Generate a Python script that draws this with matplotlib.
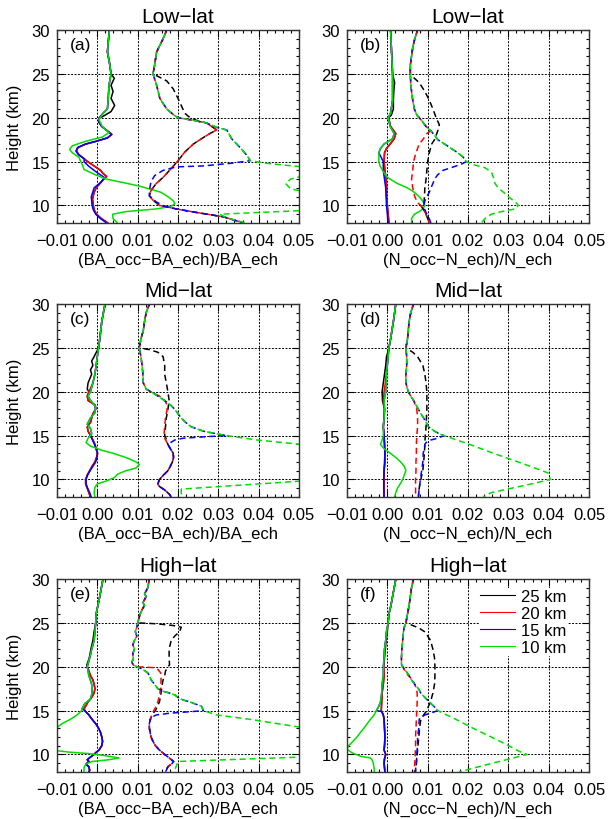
import matplotlib
matplotlib.use("Agg")
import matplotlib.pyplot as plt
from matplotlib.ticker import MultipleLocator, FuncFormatter
from matplotlib.lines import Line2D

plt.rcParams['font.family'] = ['Liberation Sans', 'DejaVu Sans']

# ---- data: heights (km) and relative differences ----
# solid = bias, dashed = spread; 10 km curve is full, others spliced in below
# (a) Low-lat, bending angle
a_sol_10_h = [30, 28.6, 27.5, 26.3, 25, 23.7, 22.2, 21, 20.5, 19.8, 19, 18.3, 17.8, 17.3, 16.8, 16.4, 16.0, 15.5, 15, 14.5, 14.1, 13.5, 13.0, 12.5, 12.2, 11.5, 11, 10.5, 10.2, 9.9, 9.6, 9.3, 9.0, 8.5, 8.0]
a_sol_10 = [0.0030, 0.0027, 0.0025, 0.0030, 0.0034, 0.0029, 0.0027, 0.0025, 0.0014, 0.0004, 0.0012, 0.0029, 0.0012, -0.0030, -0.0062, -0.0069, -0.0062, -0.0046, -0.0041, -0.0036, -0.0033, -0.0005, 0.0023, 0.0075, 0.0105, 0.0158, 0.0175, 0.0189, 0.0192, 0.0183, 0.0146, 0.0071, 0.0038, 0.0039, 0.0050]
a_sol_15_h = [20.0, 19.5, 19.0, 18.5, 18.1, 17.7, 17.3, 17.0, 16.6, 16.2, 15.8, 15.3, 15.0, 14.5, 14.0, 13.7, 13.2, 12.7, 12.0, 11.0, 10.0, 9.5, 9.0, 8.5, 8.0]
a_sol_15 = [0.0005, 0.0004, 0.0011, 0.0025, 0.0035, 0.0025, -0.0004, -0.0029, -0.0049, -0.0053, -0.0047, -0.0032, -0.0033, -0.0022, -0.0008, 0.0001, 0.0017, 0.0010, -0.0008, -0.0015, -0.0013, -0.0010, -0.0004, 0.0008, 0.0023]
a_sol_20_h = [20.0, 19.5, 19.0, 18.5, 18.1, 17.7, 17.3, 17.0, 16.6, 16.2, 15.8, 15.0, 14.5, 14.0, 13.7, 13.3, 12.8, 12.0, 11.5, 10.7, 10.0, 9.5, 9.0, 8.5, 8.0]
a_sol_20 = [0.0005, 0.0004, 0.0011, 0.0025, 0.0036, 0.0025, -0.0004, -0.0029, -0.0048, -0.0052, -0.0046, -0.0024, -0.0008, 0.0008, 0.0013, 0.0023, 0.0012, -0.0003, -0.0008, -0.0012, -0.0010, -0.0008, -0.0002, 0.0010, 0.0026]
a_sol_25_h = [24.5, 23.7, 23.0, 22.2, 21.4, 20.7, 20.1]
a_sol_25 = [0.0042, 0.0034, 0.0039, 0.0034, 0.0043, 0.0034, 0.0012]
a_das_10_h = [30, 29, 27.5, 26, 25, 23.7, 22.2, 21, 20.3, 20.0, 19.7, 19.4, 18.9, 18.6, 17.6, 16.6, 15.7, 15.1, 14.8, 14.6, 14.4, 14.0, 13.0, 12.5, 11.9, 11.5, 10.0, 9.4, 9.2, 9.0, 8.6, 8.0]
a_das_10 = [0.0172, 0.0163, 0.0147, 0.0142, 0.0138, 0.0147, 0.0155, 0.0172, 0.0190, 0.0200, 0.0238, 0.0271, 0.0296, 0.0321, 0.0333, 0.0354, 0.0371, 0.0379, 0.0420, 0.0463, 0.0510, 0.0560, 0.0479, 0.0467, 0.0479, 0.0520, 0.0600, 0.0500, 0.0400, 0.0304, 0.0320, 0.0368]
a_das_15_h = [14.8, 14.5, 14.4, 14.0, 13.4, 12.7, 11.7, 11.1, 10.4, 9.9, 9.6, 9.2, 8.7, 8.0]
a_das_15 = [0.0330, 0.0260, 0.0196, 0.0163, 0.0142, 0.0133, 0.0129, 0.0129, 0.0146, 0.0167, 0.0196, 0.0246, 0.0313, 0.0363]
a_das_20_h = [19.7, 19.4, 18.6, 18.2, 17.6, 17.0, 16.1, 15.1, 14.2, 13.2, 12.5, 11.7, 11.1, 10.6, 10.0]
a_das_20 = [0.0238, 0.0271, 0.0296, 0.0279, 0.0258, 0.0238, 0.0217, 0.0200, 0.0183, 0.0163, 0.0146, 0.0133, 0.0129, 0.0138, 0.0154]
a_das_25_h = [24.2, 23.3, 22.2, 21.4, 20.5, 20.0, 19.7, 19.4]
a_das_25 = [0.0172, 0.0188, 0.0200, 0.0208, 0.0217, 0.0230, 0.0246, 0.0271]

# (b) Low-lat, refractivity
b_sol_10_h = [30, 28, 25, 22, 20.5, 20.0, 19.0, 18.2, 17.6, 17.0, 16.5, 16.0, 15.0, 14.5, 14.0, 13.2, 12.5, 12.0, 11.5, 11.0, 10.5, 10.0, 9.6, 9.3, 9.0, 8.5, 8.0]
b_sol_10 = [0.0008, 0.0010, 0.0013, 0.0013, 0.0008, 0.0002, 0.0007, 0.0017, 0.0013, -0.0008, -0.0017, -0.0021, -0.0021, -0.0018, -0.0012, 0.0000, 0.0025, 0.0050, 0.0067, 0.0079, 0.0088, 0.0093, 0.0088, 0.0079, 0.0067, 0.0060, 0.0060]
b_sol_15_h = [15.0, 14.0, 13.0, 12.0, 11.0, 10.0, 9.0, 8.0]
b_sol_15 = [-0.0010, -0.0010, -0.0007, -0.0004, -0.0003, -0.0002, 0.0000, 0.0002]
b_sol_20_h = [20.0, 19.0, 18.2, 17.6, 17.0, 16.5, 16.0, 15.0, 14.0, 13.0, 12.0, 11.0, 10.0, 9.0, 8.0]
b_sol_20 = [0.0003, 0.0008, 0.0021, 0.0017, 0.0007, -0.0002, -0.0007, -0.0008, -0.0006, -0.0003, -0.0002, -0.0002, 0.0000, 0.0002, 0.0004]
b_sol_25_h = [24, 23, 22, 21, 20.3]
b_sol_25 = [0.0018, 0.0016, 0.0015, 0.0015, 0.0010]
b_das_10_h = [30, 29, 28, 27, 26, 25, 24, 23, 22, 21, 20.3, 20.0, 19.5, 19.0, 18.5, 18.0, 17.5, 17.0, 16.5, 16.0, 15.5, 15.0, 14.6, 14.3, 13.8, 13.2, 12.5, 12.0, 11.5, 11.0, 10.4, 10.0, 9.6, 9.3, 9.0, 8.5, 8.0]
b_das_10 = [0.0075, 0.0068, 0.0063, 0.0060, 0.0057, 0.0057, 0.0058, 0.0060, 0.0063, 0.0067, 0.0073, 0.0079, 0.0088, 0.0096, 0.0108, 0.0117, 0.0125, 0.0142, 0.0158, 0.0175, 0.0188, 0.0196, 0.0217, 0.0242, 0.0258, 0.0263, 0.0267, 0.0275, 0.0288, 0.0300, 0.0317, 0.0325, 0.0317, 0.0283, 0.0258, 0.0242, 0.0233]
b_das_15_h = [14.7, 14.3, 14.0, 13.5, 13.0, 12.5, 12.0, 11.5, 11.0, 10.5, 10.0, 9.5, 9.0, 8.5, 8.0]
b_das_15 = [0.0183, 0.0158, 0.0138, 0.0125, 0.0117, 0.0113, 0.0108, 0.0104, 0.0098, 0.0093, 0.0090, 0.0093, 0.0098, 0.0104, 0.0108]
b_das_20_h = [18.2, 17.5, 17.0, 16.0, 15.0, 14.0, 13.0, 12.0, 11.0, 10.3, 10.0, 9.5, 9.0, 8.5, 8.0]
b_das_20 = [0.0098, 0.0088, 0.0079, 0.0071, 0.0065, 0.0063, 0.0060, 0.0063, 0.0068, 0.0075, 0.0083, 0.0090, 0.0096, 0.0100, 0.0104]
b_das_25_h = [24.5, 24, 23, 22, 21, 20, 19.2, 18.5, 18, 17.5, 17, 16, 15, 14, 13, 12, 11, 10.3]
b_das_25 = [0.0067, 0.0079, 0.0093, 0.0104, 0.0113, 0.0121, 0.0129, 0.0125, 0.0121, 0.0117, 0.0110, 0.0104, 0.0100, 0.0098, 0.0096, 0.0093, 0.0092, 0.0091]

# (c) Mid-lat, bending angle
c_sol_10_h = [30, 28, 26, 25, 24, 23, 22, 21, 20, 19.5, 19, 18.3, 17.6, 17, 16.3, 15.8, 15.2, 14.7, 14.2, 13.8, 13.3, 13.0, 12.5, 12.0, 11.7, 11.3, 11.0, 10.6, 10.2, 9.8, 9.5, 9.1, 8.5, 8.0]
c_sol_10 = [0.0019, 0.0011, 0.0006, 0.0003, 0.0000, -0.0003, -0.0006, -0.0011, -0.0017, -0.0023, -0.0017, -0.0004, -0.0006, -0.0017, -0.0025, -0.0017, -0.0014, -0.0023, -0.0028, -0.0017, 0.0013, 0.0038, 0.0071, 0.0096, 0.0104, 0.0096, 0.0071, 0.0050, 0.0042, 0.0021, 0.0000, -0.0006, -0.0008, -0.0006]
c_sol_15_h = [15.0, 14.5, 14.0, 13.5, 13.0, 12.5, 12.0, 11.5, 11.0, 10.5, 10.0, 9.5, 9.0, 8.5, 8.0]
c_sol_15 = [-0.0017, -0.0012, -0.0007, -0.0003, 0.0001, -0.0001, -0.0004, -0.0011, -0.0018, -0.0024, -0.0028, -0.0028, -0.0024, -0.0019, -0.0015]
c_sol_20_h = [20.0, 19.5, 19.0, 18.5, 18.0, 17.5, 17.0, 16.5, 16.0, 15.5, 15.0, 14.5, 14.0, 13.5, 13.0, 12.5, 12.0, 11.5, 11.0, 10.5, 10.0, 9.5, 9.0, 8.5, 8.0]
c_sol_20 = [-0.0021, -0.0025, -0.0023, -0.0006, -0.0004, -0.0011, -0.0014, -0.0017, -0.0025, -0.0023, -0.0017, -0.0011, -0.0006, -0.0003, 0.0000, -0.0002, -0.0006, -0.0013, -0.0019, -0.0025, -0.0029, -0.0029, -0.0025, -0.0021, -0.0017]
c_sol_25_h = [24, 23.5, 23, 22.5, 22, 21, 20.3]
c_sol_25 = [-0.0008, -0.0014, -0.0011, -0.0017, -0.0014, -0.0023, -0.0025]
c_das_10_h = [30, 29, 28, 27, 26, 25, 24, 23, 22, 21, 20.3, 20.0, 19.5, 19.0, 18.5, 18.0, 17.5, 17.0, 16.5, 16.0, 15.5, 15.2, 15.0, 14.5, 14.0, 13.5, 10.5, 9.8, 8.9, 8.5, 8.0]
c_das_10 = [0.0129, 0.0121, 0.0117, 0.0114, 0.0108, 0.0104, 0.0108, 0.0111, 0.0113, 0.0114, 0.0121, 0.0133, 0.0150, 0.0167, 0.0181, 0.0192, 0.0200, 0.0208, 0.0219, 0.0233, 0.0263, 0.0296, 0.0321, 0.0396, 0.0504, 0.0600, 0.0600, 0.0500, 0.0208, 0.0208, 0.0210]
c_das_15_h = [14.9, 14.7, 14.5, 14.0, 13.5, 13.0, 12.5, 12.0, 11.5, 11.0, 10.5, 10.0, 9.5, 9.2, 8.8, 8.3, 8.0]
c_das_15 = [0.0279, 0.0213, 0.0192, 0.0175, 0.0181, 0.0188, 0.0189, 0.0186, 0.0181, 0.0175, 0.0164, 0.0154, 0.0150, 0.0154, 0.0167, 0.0179, 0.0183]
c_das_20_h = [19.5, 19.0, 18.5, 18.0, 17.0, 16.0, 15.0, 14.5, 14.2]
c_das_20 = [0.0154, 0.0167, 0.0173, 0.0173, 0.0169, 0.0167, 0.0165, 0.0169, 0.0173]
c_das_25_h = [24.8, 24.5, 24, 23, 22, 21, 20, 19, 18, 17, 16, 15, 14.3]
c_das_25 = [0.0129, 0.0150, 0.0163, 0.0167, 0.0167, 0.0171, 0.0175, 0.0178, 0.0175, 0.0171, 0.0169, 0.0167, 0.0174]

# (d) Mid-lat, refractivity
d_sol_10_h = [30, 28, 26, 25, 24, 22, 20, 19, 18, 17, 16, 15, 14.5, 14.0, 13.5, 13.0, 12.5, 12.0, 11.5, 11.0, 10.5, 10.0, 9.5, 9.0, 8.5, 8.0]
d_sol_10 = [0.0021, 0.0015, 0.0008, 0.0004, 0.0002, -0.0002, -0.0004, -0.0008, -0.0007, -0.0008, -0.0010, -0.0010, -0.0013, -0.0017, -0.0008, 0.0007, 0.0021, 0.0033, 0.0042, 0.0046, 0.0042, 0.0038, 0.0032, 0.0025, 0.0021, 0.0018]
d_sol_15_h = [15, 14, 13, 12, 11, 10, 9, 8]
d_sol_15 = [-0.0008, -0.0007, -0.0006, -0.0007, -0.0008, -0.0009, -0.0009, -0.0008]
d_sol_20_h = [20, 19, 18, 17, 16, 15, 14, 13, 12, 11, 10, 9, 8]
d_sol_20 = [-0.0008, -0.0010, -0.0007, -0.0008, -0.0010, -0.0008, -0.0007, -0.0006, -0.0006, -0.0008, -0.0008, -0.0008, -0.0008]
d_sol_25_h = [24, 23, 22, 21, 20, 19]
d_sol_25 = [-0.0002, -0.0004, -0.0007, -0.0010, -0.0013, -0.0012]
d_das_10_h = [30, 29, 28, 27, 26, 25, 24, 23, 22, 21, 20.3, 20.0, 19.5, 19.0, 18.5, 18.0, 17.5, 17.0, 16.5, 16.0, 15.5, 15.2, 15.0, 14.0, 13.0, 12.0, 11.0, 10.7, 10.0, 9.5, 9.0, 8.5, 8.0]
d_das_10 = [0.0065, 0.0058, 0.0054, 0.0052, 0.0050, 0.0046, 0.0048, 0.0048, 0.0046, 0.0046, 0.0050, 0.0052, 0.0058, 0.0065, 0.0071, 0.0077, 0.0083, 0.0090, 0.0096, 0.0102, 0.0117, 0.0129, 0.0140, 0.0204, 0.0262, 0.0324, 0.0384, 0.0400, 0.0404, 0.0358, 0.0308, 0.0258, 0.0238]
d_das_15_h = [14.7, 14.5, 14.2, 14.0, 13.5, 13.0, 12.0, 11.0, 10.0, 9.0, 8.0]
d_das_15 = [0.0125, 0.0108, 0.0096, 0.0093, 0.0092, 0.0089, 0.0088, 0.0085, 0.0082, 0.0079, 0.0077]
d_das_20_h = [18.8, 18.0, 17.0, 16.0, 15.0, 14.0, 13.0, 12.0, 11.0, 10.0, 9.0, 8.0]
d_das_20 = [0.0067, 0.0073, 0.0075, 0.0075, 0.0073, 0.0072, 0.0072, 0.0071, 0.0071, 0.0070, 0.0070, 0.0070]
d_das_25_h = [24.5, 24, 23, 22, 21, 20, 19, 18, 17, 16, 15, 14, 13, 12, 11, 10, 9, 8]
d_das_25 = [0.0063, 0.0075, 0.0088, 0.0093, 0.0096, 0.0098, 0.0098, 0.0098, 0.0097, 0.0096, 0.0094, 0.0093, 0.0092, 0.0090, 0.0088, 0.0083, 0.0079, 0.0077]

# (e) High-lat, bending angle
e_sol_10_h = [30, 28, 26, 25, 24, 23, 22, 21, 20, 19, 18, 17, 16.3, 15.8, 15.2, 15.0, 14.5, 14.0, 13.5, 13.0, 12.5, 11.0, 10.45, 10.27, 10.1, 9.85, 9.6, 9.4, 9.2, 8.9, 8.5, 8.0]
e_sol_10 = [0.0014, 0.0006, -0.0003, -0.0004, -0.0006, -0.0008, -0.0014, -0.0019, -0.0025, -0.0021, -0.0014, -0.0013, -0.0017, -0.0031, -0.0038, -0.0039, -0.0050, -0.0067, -0.0088, -0.0102, -0.0120, -0.0120, -0.0103, -0.0071, -0.0021, 0.0021, 0.0054, 0.0029, -0.0013, -0.0029, -0.0033, -0.0033]
e_sol_15_h = [15.0, 14.5, 14.0, 13.5, 13.0, 12.5, 12.0, 11.5, 11.0, 10.5, 10.2, 10.0, 9.7, 9.4, 9.2, 8.9, 8.6, 8.2, 8.0]
e_sol_15 = [-0.0031, -0.0021, -0.0013, -0.0004, 0.0003, 0.0008, 0.0011, 0.0013, 0.0011, 0.0004, -0.0004, -0.0008, -0.0017, -0.0025, -0.0021, -0.0028, -0.0021, -0.0019, -0.0021]
e_sol_20_h = [20, 19.5, 19, 18.5, 18, 17.5, 17, 16.5, 16, 15.5, 15.2, 15.0, 14.5]
e_sol_20 = [-0.0025, -0.0021, -0.0017, -0.0011, -0.0008, -0.0006, -0.0008, -0.0014, -0.0023, -0.0029, -0.0033, -0.0031, -0.0021]
e_sol_25_h = [24, 23, 22, 21, 20.2]
e_sol_25 = [-0.0008, -0.0011, -0.0016, -0.0020, -0.0026]
e_das_10_h = [30, 29, 28.3, 28, 27.3, 27, 26.5, 26, 25.5, 25, 24.5, 24, 23.5, 23, 22.5, 22, 21.5, 21, 20.5, 20.2, 20.0, 19.7, 19.3, 19.0, 18.5, 18.0, 17.5, 17.2, 17.0, 16.8, 16.5, 16.2, 16.0, 15.7, 15.5, 15.2, 15.0, 14.5, 14.0, 13.1, 12.5, 10.3, 9.7, 9.2, 8.7, 8.0]
e_das_10 = [0.0129, 0.0125, 0.0117, 0.0121, 0.0113, 0.0117, 0.0111, 0.0106, 0.0103, 0.0100, 0.0098, 0.0094, 0.0098, 0.0092, 0.0088, 0.0092, 0.0088, 0.0089, 0.0086, 0.0089, 0.0098, 0.0113, 0.0125, 0.0129, 0.0133, 0.0142, 0.0150, 0.0163, 0.0179, 0.0192, 0.0200, 0.0213, 0.0229, 0.0246, 0.0258, 0.0261, 0.0263, 0.0296, 0.0379, 0.0504, 0.0600, 0.0600, 0.0504, 0.0200, 0.0196, 0.0190]
e_das_15_h = [14.9, 14.7, 14.5, 14.2, 14.0, 13.5, 13.0, 12.5, 12.0, 11.5, 11.0, 10.5, 10.0, 9.5, 9.2, 9.0, 8.6, 8.2, 8.0]
e_das_15 = [0.0238, 0.0179, 0.0146, 0.0133, 0.0131, 0.0129, 0.0129, 0.0131, 0.0133, 0.0138, 0.0144, 0.0154, 0.0167, 0.0181, 0.0189, 0.0186, 0.0175, 0.0171, 0.0169]
e_das_20_h = [19.9, 19.7, 19.3, 18.5, 17.5, 16.5, 16.0, 15.5, 15.0, 14.5]
e_das_20 = [0.0138, 0.0150, 0.0157, 0.0158, 0.0157, 0.0153, 0.0150, 0.0146, 0.0140, 0.0135]
e_das_25_h = [24.9, 24.7, 24.5, 24.0, 23.5, 23, 22, 21, 20.2, 20, 19.5, 19, 18.5, 18, 17, 16, 15, 14.5, 14.0]
e_das_25 = [0.0146, 0.0188, 0.0208, 0.0204, 0.0192, 0.0183, 0.0178, 0.0178, 0.0179, 0.0175, 0.0169, 0.0167, 0.0163, 0.0161, 0.0158, 0.0154, 0.0144, 0.0135, 0.0132]

# (f) High-lat, refractivity
f_sol_10_h = [30, 29, 28, 27, 26, 25, 24, 23, 22, 21, 20, 19, 18, 17, 16, 15.5, 15.0, 14.5, 14.0, 13.5, 13.0, 12.5, 12.0, 11.5, 11.0, 10.6, 10.2, 9.8, 9.6, 9.4, 9.0, 8.5, 8.0]
f_sol_10 = [0.0021, 0.0017, 0.0013, 0.0009, 0.0004, 0.0002, -0.0002, -0.0004, -0.0007, -0.0008, -0.0010, -0.0010, -0.0013, -0.0014, -0.0017, -0.0021, -0.0027, -0.0033, -0.0042, -0.0050, -0.0058, -0.0067, -0.0075, -0.0085, -0.0096, -0.0100, -0.0088, -0.0067, -0.0042, -0.0038, -0.0035, -0.0033, -0.0032]
f_sol_15_h = [14.9, 14.5, 14.0, 13.0, 12.0, 11.0, 10.5, 10.0, 9.5, 9.0, 8.5, 8.0]
f_sol_15 = [-0.0014, -0.0010, -0.0008, -0.0007, -0.0006, -0.0007, -0.0008, -0.0004, -0.0007, -0.0008, -0.0007, -0.0006]
f_sol_20_h = [20, 19, 18, 17, 16, 15.0]
f_sol_20 = [-0.0009, -0.0008, -0.0010, -0.0013, -0.0014, -0.0015]
f_sol_25_h = [24, 23, 22, 21]
f_sol_25 = [0.0000, -0.0003, -0.0005, -0.0007]
f_das_10_h = [30, 29, 28, 27, 26, 25, 24.5, 24, 23, 22, 21, 20.3, 20.0, 19.5, 19.0, 18.5, 18.0, 17.5, 17.0, 16.5, 16.0, 15.5, 15.2, 15.0, 14.0, 13.0, 12.0, 11.0, 10.4, 10.0, 9.5, 9.0, 8.5, 8.0]
f_das_10 = [0.0065, 0.0060, 0.0057, 0.0054, 0.0050, 0.0046, 0.0042, 0.0040, 0.0038, 0.0036, 0.0035, 0.0035, 0.0038, 0.0046, 0.0054, 0.0060, 0.0068, 0.0077, 0.0083, 0.0093, 0.0104, 0.0115, 0.0121, 0.0125, 0.0170, 0.0212, 0.0257, 0.0301, 0.0325, 0.0346, 0.0304, 0.0260, 0.0218, 0.0178]
f_das_15_h = [14.8, 14.5, 14.2, 14.0, 13.0, 12.0, 11.0, 10.0, 9.0, 8.0]
f_das_15 = [0.0113, 0.0093, 0.0083, 0.0079, 0.0078, 0.0075, 0.0075, 0.0073, 0.0072, 0.0069]
f_das_20_h = [19.5, 19.0, 18.5, 18.0, 17.5, 17.0, 16.0, 15.0, 14.0, 13.0, 12.0, 11.0, 10.0, 9.0, 8.0]
f_das_20 = [0.0044, 0.0052, 0.0062, 0.0068, 0.0072, 0.0074, 0.0074, 0.0073, 0.0072, 0.0071, 0.0070, 0.0070, 0.0069, 0.0068, 0.0067]
f_das_25_h = [24.7, 24.4, 24, 23.5, 23, 22, 21, 20, 19, 18, 17, 16, 15.5, 15, 14.5, 14, 13, 12, 11, 10, 9, 8]
f_das_25 = [0.0063, 0.0079, 0.0092, 0.0100, 0.0107, 0.0113, 0.0117, 0.0118, 0.0118, 0.0117, 0.0113, 0.0107, 0.0102, 0.0098, 0.0090, 0.0083, 0.0080, 0.0078, 0.0076, 0.0074, 0.0072, 0.0070]

heights = ['25 km', '20 km', '15 km', '10 km']
colors = ['#000000', '#ff0000', '#0000ff', '#00dd00']
titles = ['Low\u2212lat', 'Low\u2212lat', 'Mid\u2212lat', 'Mid\u2212lat', 'High\u2212lat', 'High\u2212lat']
letters = ['(a)', '(b)', '(c)', '(d)', '(e)', '(f)']
xlabels = ['(BA_occ\u2212BA_ech)/BA_ech', '(N_occ\u2212N_ech)/N_ech']


def splice(base_h, base_v, h, v):
    # replace the base curve between min(h) and max(h) by the given points
    lo, hi = min(h), max(h)
    pts = [(bh, bv) for bh, bv in zip(base_h, base_v) if bh > hi or bh < lo]
    pts = sorted(pts + list(zip(h, v)), reverse=True)
    return [p[0] for p in pts], [p[1] for p in pts]


def build(g_h, g, b_h, b, r_h, r, k_h, k):
    blue = splice(g_h, g, b_h, b)
    red = splice(blue[0], blue[1], r_h, r)
    black = splice(red[0], red[1], k_h, k)
    return [black, red, blue, (g_h, g)]


panels = [
    (build(a_sol_10_h, a_sol_10, a_sol_15_h, a_sol_15, a_sol_20_h, a_sol_20, a_sol_25_h, a_sol_25),
     build(a_das_10_h, a_das_10, a_das_15_h, a_das_15, a_das_20_h, a_das_20, a_das_25_h, a_das_25)),
    (build(b_sol_10_h, b_sol_10, b_sol_15_h, b_sol_15, b_sol_20_h, b_sol_20, b_sol_25_h, b_sol_25),
     build(b_das_10_h, b_das_10, b_das_15_h, b_das_15, b_das_20_h, b_das_20, b_das_25_h, b_das_25)),
    (build(c_sol_10_h, c_sol_10, c_sol_15_h, c_sol_15, c_sol_20_h, c_sol_20, c_sol_25_h, c_sol_25),
     build(c_das_10_h, c_das_10, c_das_15_h, c_das_15, c_das_20_h, c_das_20, c_das_25_h, c_das_25)),
    (build(d_sol_10_h, d_sol_10, d_sol_15_h, d_sol_15, d_sol_20_h, d_sol_20, d_sol_25_h, d_sol_25),
     build(d_das_10_h, d_das_10, d_das_15_h, d_das_15, d_das_20_h, d_das_20, d_das_25_h, d_das_25)),
    (build(e_sol_10_h, e_sol_10, e_sol_15_h, e_sol_15, e_sol_20_h, e_sol_20, e_sol_25_h, e_sol_25),
     build(e_das_10_h, e_das_10, e_das_15_h, e_das_15, e_das_20_h, e_das_20, e_das_25_h, e_das_25)),
    (build(f_sol_10_h, f_sol_10, f_sol_15_h, f_sol_15, f_sol_20_h, f_sol_20, f_sol_25_h, f_sol_25),
     build(f_das_10_h, f_das_10, f_das_15_h, f_das_15, f_das_20_h, f_das_20, f_das_25_h, f_das_25)),
]

W, H = 608, 820
fig = plt.figure(figsize=(W / 100, H / 100), dpi=100)
lefts = [57, 347]
tops = [31, 305, 580]
aw, ah = 242, 193

fmt = FuncFormatter(lambda v, p: f"{round(v, 3) + 0.0:.2f}".replace('-', '\u2212'))
dash_off = [0, 1.2, 2.4, 3.6]

for i, (sol, das) in enumerate(panels):
    row, col = divmod(i, 2)
    ax = fig.add_axes([lefts[col] / W, 1 - (tops[row] + ah) / H, aw / W, ah / H])
    for j, (h, v) in enumerate(sol):
        ax.plot(v, h, color=colors[j], lw=1.1)
    for j, (h, v) in enumerate(das):
        ax.plot(v, h, color=colors[j], lw=1.1, linestyle=(dash_off[j], (4, 2.5)))
    ax.set_xlim(-0.01, 0.05)
    ax.set_ylim(8, 30)
    ax.xaxis.set_major_locator(MultipleLocator(0.01))
    ax.xaxis.set_minor_locator(MultipleLocator(0.002))
    ax.yaxis.set_major_locator(MultipleLocator(5))
    ax.yaxis.set_minor_locator(MultipleLocator(1))
    ax.xaxis.set_major_formatter(fmt)
    ax.set_axisbelow(True)
    ax.grid(True, which='major', color='k', linestyle=(0, (2, 1.5)), lw=0.7)
    ax.tick_params(which='both', direction='in', top=True, right=True, labelsize=12, width=0.8)
    ax.tick_params(which='major', length=5, pad=5)
    ax.tick_params(axis='x', which='major', pad=7)
    ax.tick_params(which='minor', length=2.5)
    for s in ax.spines.values():
        s.set_linewidth(1.0)
        s.set_color('#333333')
    ax.set_title(titles[i], fontsize=15, pad=6)
    ax.text(0.055, 0.965, letters[i], transform=ax.transAxes, fontsize=12.5, va='top', ha='left')
    ax.set_xlabel(xlabels[col], fontsize=12, labelpad=3)
    if col == 0:
        ax.set_ylabel('Height (km)', fontsize=12, labelpad=7)
    if i == 5:
        handles = [Line2D([0], [0], color=c, lw=0.8) for c in colors]
        ax.legend(handles, heights, loc='upper left', bbox_to_anchor=(0.51, 0.997),
                  fontsize=12, frameon=True, facecolor='white', edgecolor='none', framealpha=1,
                  fancybox=False, handlelength=2.1, handletextpad=0.4, labelspacing=0.12,
                  borderpad=0.05)

fig.savefig('out.png', dpi=100)
